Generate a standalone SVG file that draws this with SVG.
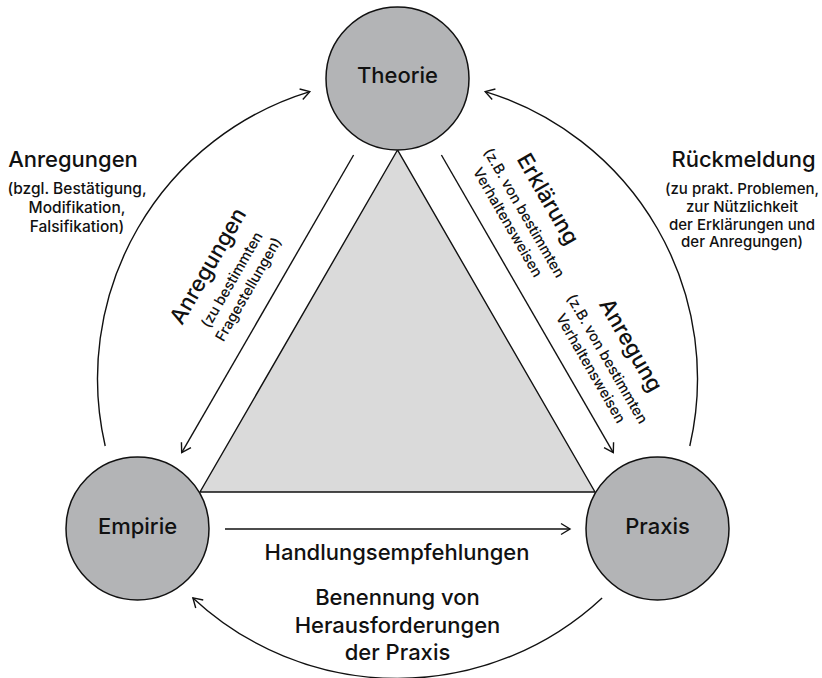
<svg xmlns="http://www.w3.org/2000/svg" width="822" height="678" viewBox="0 0 822 678">
  <defs>
    <marker id="open-arrow" markerUnits="userSpaceOnUse" markerWidth="14" markerHeight="14" viewBox="-11 -7 14 14" refX="0" refY="0" orient="auto">
      <path d="M-9,-5.5 L0,0 L-9,5.5" fill="none" stroke="#111" stroke-width="1.4" stroke-linejoin="miter"/>
    </marker>
  </defs>
  <style>
    text { font-family: Inter, "Liberation Sans", Arial, sans-serif; fill: #111; text-anchor: middle; }
    .big { font-size: 22px; font-weight: 500; }
    .small { font-size: 14.5px; font-weight: 500; }
    .small-l { font-size: 15.5px; font-weight: 500; }
    .small-r { font-size: 15px; font-weight: 500; }
    .node { fill: #b3b4b6; stroke: #111; stroke-width: 1.5; }
    .tri { fill: #dadada; stroke: #111; stroke-width: 1.4; }
    .link { fill: none; stroke: #111; stroke-width: 1.4; marker-end: url(#open-arrow); }
  </style>
  <rect width="822" height="678" fill="#ffffff"/>

  <!-- central triangle -->
  <polygon class="tri" points="397.5,150 200,492 595,492"/>

  <!-- connectors -->
  <g id="connectors">
    <!-- outer ring, radius 300 around the triangle centre -->
    <path class="link" d="M105.2,446 A300,300 0 0 1 309.8,91.6"/>
    <path class="link" d="M689.8,446 A300,300 0 0 0 485.2,91.6"/>
    <path class="link" d="M602.1,597.9 A300,300 0 0 1 192.9,597.9"/>
    <!-- inner straight arrows -->
    <path class="link" d="M353.6,155 L181.7,452.7"/>
    <path class="link" d="M441.4,155 L613.3,452.7"/>
    <path class="link" d="M225,529 L570,529"/>
  </g>

  <!-- nodes -->
  <g id="theorie">
    <circle class="node" cx="397.5" cy="78.5" r="71.5"/>
    <text class="big" x="397.5" y="83">Theorie</text>
  </g>
  <g id="empirie">
    <circle class="node" cx="137.5" cy="528.5" r="71.5"/>
    <text class="big" x="137.5" y="533.5">Empirie</text>
  </g>
  <g id="praxis">
    <circle class="node" cx="657.5" cy="528.5" r="71.5"/>
    <text class="big" x="657.5" y="533.5">Praxis</text>
  </g>

  <!-- labels -->
  <g id="label-anregungen-aussen">
    <text class="big" x="73" y="167">Anregungen</text>
    <text class="small-l" x="77" y="193.5">(bzgl. Bestätigung,</text>
    <text class="small-l" x="77" y="212.5">Modifikation,</text>
    <text class="small-l" x="77" y="231.5">Falsifikation)</text>
  </g>
  <g id="label-rueckmeldung">
    <text class="big" x="743.5" y="167">Rückmeldung</text>
    <text class="small-r" x="742" y="194">(zu prakt. Problemen,</text>
    <text class="small-r" x="742" y="211.8">zur Nützlichkeit</text>
    <text class="small-r" x="742" y="229.6">der Erklärungen und</text>
    <text class="small-r" x="742" y="247.4">der Anregungen)</text>
  </g>
  <g id="label-anregungen-innen" transform="translate(214.5,269.8) rotate(-60)">
    <text class="big" x="0" y="0">Anregungen</text>
    <text class="small" x="0" y="25">(zu bestimmten</text>
    <text class="small" x="0" y="44">Fragestellungen)</text>
  </g>
  <g id="label-erklaerung" transform="translate(541.5,202.8) rotate(60)">
    <text class="big" x="0" y="0">Erklärung</text>
    <text class="small" x="0" y="25">(z.B. von bestimmten</text>
    <text class="small" x="0" y="44">Verhaltensweisen</text>
  </g>
  <g id="label-anregung" transform="translate(624.5,348.8) rotate(60)">
    <text class="big" x="0" y="0">Anregung</text>
    <text class="small" x="0" y="25">(z.B. von bestimmten</text>
    <text class="small" x="0" y="44">Verhaltensweisen</text>
  </g>
  <g id="label-handlung">
    <text class="big" x="397" y="560">Handlungsempfehlungen</text>
  </g>
  <g id="label-benennung">
    <text class="big" x="397.5" y="605">Benennung von</text>
    <text class="big" x="397.5" y="632.7">Herausforderungen</text>
    <text class="big" x="397.5" y="660">der Praxis</text>
  </g>
</svg>
